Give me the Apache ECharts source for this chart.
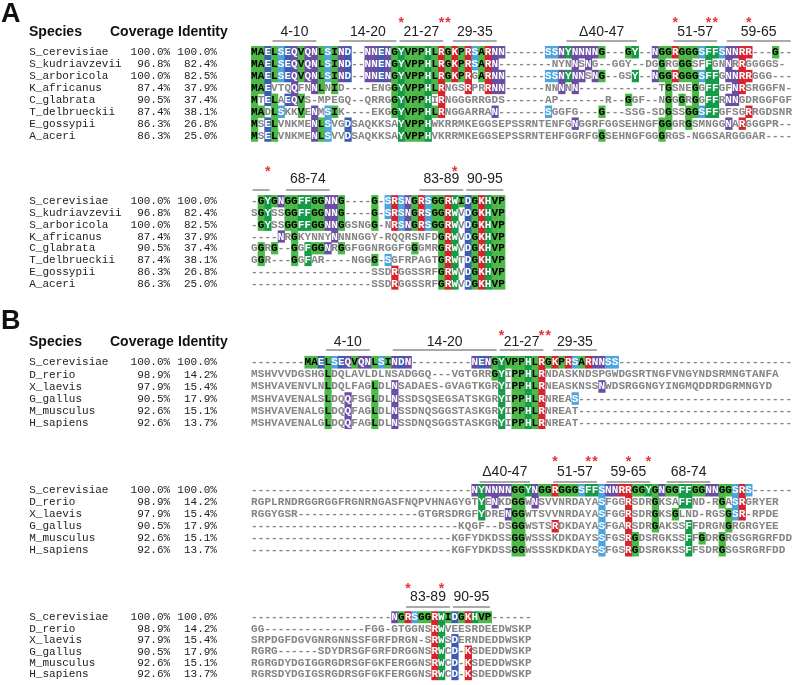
<!DOCTYPE html>
<html><head><meta charset="utf-8">
<script src="https://cdn.jsdelivr.net/npm/echarts@6/dist/echarts.min.js"></script>
<style>html,body{margin:0;padding:0;background:#fff}#c{width:793px;height:685px}</style>
</head><body><div id="c"></div>
<script>
// ================= DATA =================
const speciesA = ['S_cerevisiae','S_kudriavzevii','S_arboricola','K_africanus','C_glabrata','T_delbrueckii','E_gossypii','A_aceri'];
const coverageA = ['100.0%','96.8%','100.0%','87.4%','90.5%','87.4%','86.3%','86.3%'];
const identityA = ['100.0%','82.4%','82.5%','37.9%','37.4%','38.1%','26.8%','25.0%'];

const speciesB = ['S_cerevisiae','D_rerio','X_laevis','G_gallus','M_musculus','H_sapiens'];
const coverageB = ['100.0%','98.9%','97.9%','90.5%','92.6%','92.6%'];
const identityB = ['100.0%','14.2%','15.4%','17.9%','15.1%','13.7%'];

const seqA1 = [
  'MAELSEQVQNLSIND--NNENGYVPPHLRGKPRSARNN------SSNYNNNNG---GY--NGGRGGGSFFSNNRR---G--',
  'MAELSEQVQNLSIND--NNENGYVPPHLRGKPRSARN--------NYNNSNG--GGY--DGGRGGGSFFGNNRRGGGGS-',
  'MAELSEQVQNLSIND--NNENGYVPPHLRGKPRGARNN------SSNYNNSNG--GSY--NGGRGGGSFFGNNRRGGG---',
  'MAEVTQQFNNLNID----ENGGYVPPHLRNGSRPRRNN------NNNNN------------TGSNEGGFFGFNRSRGGFN-',
  'MTELAEQVS-MPEGQ--QRRGGYVPPHIRNGGGRRGDS------AP-------R--GGF--NGGGRGGFFRNNGDRGGFGF',
  'MADLSKKVENMSIK----EKGGYVPPHLRNGGARRAN-------SGGFG---G---SSG-SDGSSGGSFFGFSGRRGDSNR',
  'MSELVNKMENLSVGDSAQKKSAYVPPHWKRRMKEGGSEPSSRNTENFGNGGRFGGSEHNGFGGGRGSMNGGNARGGGPR--',
  'MSELVNKMENLSVVDSAQKKSAYVPPHVKRRMKEGGSEPSSRNTEHFGGRFGGSEHNGFGGGRGS-NGGSARGGGAR----'
];
const seqA2 = [
  '-GYGNGGFFGGNNG----G-SRSNGRSGGRWIDGKHVP',
  'SGYSSGGFFGGNNG----G-SRSNGRSGGRWVDGKHVP',
  '-GYSSGGFFGGNNGGSNGG-NRSNGRSGGRWVDGKHVP',
  '----NRGKYNNYNNNNGGY-RQQRSNFDGRWVDGKHVP',
  'GGRG--GGFGGNRGGFGGNRGGFGGGMRGRWVDGKHVP',
  'GGR---GGFAR----NGGG-SGFRPAGTGRWTDGKHVP',
  '------------------SSDRGGSSRFGRWVDGKHVP',
  '------------------SSDRGGSSRFGRWVDGKHVP'
];
const seqB1 = [
  '--------MAELSEQVQNLSINDN---------NENGYVPPHLRGKPRSARNNSS---------------------------',
  'MSHVVVDGSHGLDQLAVLDLNSADGGQ---VGTGRRGYIPPHLRNDASKNDSPGWDGSRTNGFVNGYNDSRMNGTANFA',
  'MSHVAVENVLNLDQLFAGLDLNSADAES-GVAGTKGRYIPPHLRNEASKNSSNWDSRGGNGYINGMQDDRDGRMNGYD',
  'MSHVAVENALSLDQQFSGLDLNSSDSQSEGSATSKGRYIPPHLRNREAS---------------------------------',
  'MSHVAVENALGLDQQFAGLDLNSSDNQSGGSTASKGRYIPPHLRNREAT---------------------------------',
  'MSHVAVENALGLDQQFAGLDLNSSDNQSGGSTASKGRYIPPHLRNREAT---------------------------------'
];
const seqB2 = [
  '---------------------------------NYNNNNGGYNGGRGGGSFFSNNRRGGYGNGGFFGGNNGGSRS-------',
  'RGPLRNDRGGRGGFRGNRNGASFNQPVHNAGYGTYENKDGGWNSVVNRDAYASFGGRSDRGKSAFFND-RGASRGRYER',
  'RGGYGSR------------------GTGRSDRGFYDRENGGWTSVVNRDAYASFGGRSDRGKSGLND-RGSGSR-RPDE',
  '-------------------------------KQGF--DSGGWSTSRDKDAYASFGARSDRGAKSSFFDRGNGRGRGYEE',
  '------------------------------KGFYDKDSSGGWSSSKDKDAYSSFGSRGDSRGKSSFFGDRGRGSGRGRFDD',
  '------------------------------KGFYDKDSSGGWSSSKDKDAYSSFGSRGDSRGKSSFFSDRGSGSRGRFDD'
];
const seqB3 = [
  '---------------------NGRSGGRWIDGKHVP------',
  'GG---------------FGG-GTGGNSRWVEESRDEEDWSKP',
  'SRPDGFDGVGNRGNNSSFGRFDRGN-SRWSDERNDEDDWSKP',
  'RGRG------SDYDRSGFGRFDRGGNSRWCD-KSDEDDWSKP',
  'RGRGDYDGIGGRGDRSGFGKFERGGNSRWCD-KSDEDDWSKP',
  'RGRSDYDGIGSRGDRSGFGKFERGGNSRWCD-KSDEDDWSKP'
];

// region labels: [text, first column, last column]
const regionsA1 = [['4-10',3,9],['14-20',13,21],['21-27',22,28],['29-35',30,36],['\u039440-47',47,57],['51-57',63,69],['59-65',71,80]];
const regionsA2 = [['',0,2],['68-74',5,11],['83-89',25,31],['90-95',32,37]];
const regionsB1 = [['4-10',11,17],['14-20',21,36],['21-27',37,43],['29-35',45,51]];
const regionsB2 = [['\u039440-47',34,41],['51-57',45,51],['59-65',53,59],['68-74',62,68]];
const regionsB3 = [['83-89',23,29],['90-95',30,35]];
// columns marked with a red asterisk
const starsA1 = [22,28,29,63,68,69,74];
const starsA2 = [2,30];
const starsB1 = [37,43,44];
const starsB2 = [45,50,51,56,59];
const starsB3 = [23,28];

// ================= LAYOUT / STYLE =================
const W = 793, H = 685;
const CW = 6.68, X0 = 251;
const NAME_COL = -33.2, COV_COL = -12.1, IDE_COL = -5.1;
const blocks = [
  {seqs: seqA1, names: speciesA, cov: coverageA, ide: identityA, regions: regionsA1, stars: starsA1, y0: 52, rowH: 11.9, lab: -20, line: -11, star: -33},
  {seqs: seqA2, names: speciesA, cov: coverageA, ide: identityA, regions: regionsA2, stars: starsA2, y0: 201, rowH: 11.75, lab: -22, line: -11, star: -33},
  {seqs: seqB1, names: speciesB, cov: coverageB, ide: identityB, regions: regionsB1, stars: starsB1, y0: 362, rowH: 12.1, lab: -20, line: -12, star: -30},
  {seqs: seqB2, names: speciesB, cov: coverageB, ide: identityB, regions: regionsB2, stars: starsB2, y0: 490, rowH: 12.0, lab: -18, line: -8, star: -32},
  {seqs: seqB3, names: speciesB, cov: coverageB, ide: identityB, regions: regionsB3, stars: starsB3, y0: 617, rowH: 11.4, lab: -20, line: -10, star: -32}
];
const GROUP = {G:'g',A:'g',V:'g',L:'g',I:'g',M:'g',P:'g',C:'g',F:'a',Y:'a',W:'a',H:'a',R:'r',K:'r',S:'s',T:'s',N:'n',Q:'n',D:'d',E:'d'};
const PAL = {g:['#4cb848','#000'],a:['#159a48','#fff'],r:['#d6232c','#fff'],s:['#4ca4de','#fff'],n:['#6a4da3','#fff'],d:['#3a5cb2','#fff']};
const SEQ_FONT = 'bold 11px "Liberation Mono", "Courier New", monospace';
const NAME_FONT = '11px "Liberation Mono", "Courier New", monospace';

const grids = [], xAxes = [], yAxes = [], series = [];
blocks.forEach((b, bi) => {
  grids.push({left: 0, top: 0, width: W, height: H, containLabel: false});
  xAxes.push({type: 'value', gridIndex: bi, min: -X0 / CW, max: (W - X0) / CW, show: false});
  yAxes.push({type: 'value', gridIndex: bi, inverse: true, min: -b.y0 / b.rowH, max: (H - b.y0) / b.rowH, show: false});
  const info = [], data = [];
  const ref = b.seqs[0];
  b.seqs.forEach((s, r) => {
    for (let c = 0; c < s.length; c++) {
      const ch = s[c];
      data.push([c + 0.5, r]);
      info.push({ch, shaded: ch !== '-' && ch === ref[c] && GROUP[ch]});
    }
  });
  series.push({
    type: 'custom', coordinateSystem: 'cartesian2d', xAxisIndex: bi, yAxisIndex: bi, clip: false, silent: true, data,
    renderItem(params, api) {
      const it = info[params.dataIndex];
      const p = api.coord([api.value(0), api.value(1)]);
      const sz = api.size([1, 1]);
      const ch = [];
      let fg = '#858585';
      if (it.shaded) {
        const pal = PAL[GROUP[it.ch]];
        ch.push({type: 'rect', shape: {x: p[0] - sz[0] / 2, y: p[1] - sz[1] / 2, width: sz[0] + 0.5, height: sz[1] + 0.5}, style: {fill: pal[0]}});
        fg = pal[1];
      }
      ch.push({type: 'text', style: {text: it.ch, x: p[0], y: p[1] + 0.5, align: 'center', verticalAlign: 'middle', font: SEQ_FONT, fill: fg}});
      return {type: 'group', children: ch};
    }
  });
  const ndata = [], ninfo = [];
  b.names.forEach((n, r) => {
    ndata.push([NAME_COL, r]); ninfo.push([n, 'left']);
    ndata.push([COV_COL, r]); ninfo.push([b.cov[r], 'right']);
    ndata.push([IDE_COL, r]); ninfo.push([b.ide[r], 'right']);
  });
  series.push({
    type: 'custom', coordinateSystem: 'cartesian2d', xAxisIndex: bi, yAxisIndex: bi, clip: false, silent: true, data: ndata,
    renderItem(params, api) {
      const it = ninfo[params.dataIndex];
      const p = api.coord([api.value(0), api.value(1)]);
      return {type: 'text', style: {text: it[0], x: p[0], y: p[1] + 0.5, align: it[1], verticalAlign: 'middle', font: NAME_FONT, fill: '#222'}};
    }
  });
  const rdata = b.regions.map(g => [g[1], g[2] + 1]);
  series.push({
    type: 'custom', coordinateSystem: 'cartesian2d', xAxisIndex: bi, yAxisIndex: bi, clip: false, silent: true, data: rdata,
    renderItem(params, api) {
      const g = b.regions[params.dataIndex];
      const a = api.coord([api.value(0), 0]);
      const e = api.coord([api.value(1), 0]);
      return {type: 'group', children: [
        {type: 'line', shape: {x1: a[0] + 1.5, y1: a[1] + b.line, x2: e[0] - 1.5, y2: a[1] + b.line}, style: {stroke: '#555', lineWidth: 1}},
        {type: 'text', style: {text: g[0], x: (a[0] + e[0]) / 2, y: a[1] + b.lab, align: 'center', verticalAlign: 'middle', font: '14px "Liberation Sans", Arial, sans-serif', fill: '#222'}}
      ]};
    }
  });
  series.push({
    type: 'custom', coordinateSystem: 'cartesian2d', xAxisIndex: bi, yAxisIndex: bi, clip: false, silent: true, data: b.stars.map(c => [c + 0.5, 0]),
    renderItem(params, api) {
      const p = api.coord([api.value(0), 0]);
      return {type: 'text', style: {text: '*', x: p[0], y: p[1] + b.star + 4, align: 'center', verticalAlign: 'middle', font: 'bold 14px "Liberation Sans", Arial, sans-serif', fill: '#e8333c'}};
    }
  });
});

const HEAD_FONT = 'bold 14px "Liberation Sans", Arial, sans-serif';
const graphic = [
  {type: 'text', left: 1, top: 1, style: {text: 'A', font: 'bold 27px "Liberation Sans", Arial, sans-serif', fill: '#111'}},
  {type: 'text', left: 1, top: 308, style: {text: 'B', font: 'bold 27px "Liberation Sans", Arial, sans-serif', fill: '#111'}},
];
[33, 343].forEach(y => {
  graphic.push({type: 'text', left: 29, top: y - 8, style: {text: 'Species', font: HEAD_FONT, fill: '#111'}});
  graphic.push({type: 'text', left: 110, top: y - 8, style: {text: 'Coverage', font: HEAD_FONT, fill: '#111'}});
  graphic.push({type: 'text', left: 178, top: y - 8, style: {text: 'Identity', font: HEAD_FONT, fill: '#111'}});
});

const chart = echarts.init(document.getElementById('c'), null, {renderer: 'canvas'});
chart.setOption({animation: false, backgroundColor: '#fff', grid: grids, xAxis: xAxes, yAxis: yAxes, series, graphic});
</script></body></html>
